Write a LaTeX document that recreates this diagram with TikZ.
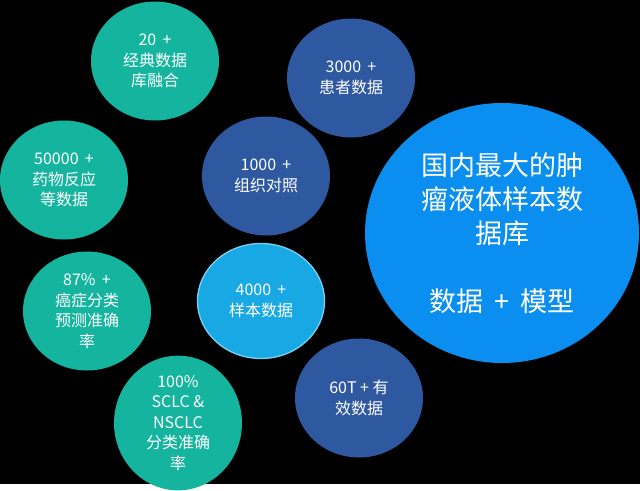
\documentclass[tikz,border=0pt]{standalone}
\usepackage{fontspec}
\setmainfont{Noto Sans CJK SC}
\usetikzlibrary{shapes.geometric}
\definecolor{tealbub}{RGB}{20,180,158}
\definecolor{navybub}{RGB}{46,88,160}
\definecolor{skybub}{RGB}{24,168,228}
\definecolor{skyrim}{RGB}{120,210,242}
\definecolor{bigbub}{RGB}{10,142,240}
\begin{document}
\begin{tikzpicture}[x=1pt,y=-1pt,
    bubble/.style={ellipse,inner sep=0pt,minimum width=128pt,minimum height=119pt,
      text=white,align=center,font=\fontsize{16}{20.5}\selectfont},
    tealb/.style={bubble,fill=tealbub},
    navyb/.style={bubble,fill=navybub},
    skyb/.style={bubble,fill=skybub,draw=skyrim,line width=1.3pt,minimum width=127pt,minimum height=115pt},
    bigb/.style={bubble,fill=bigbub,minimum width=274pt,minimum height=260pt,
      font=\fontsize{27}{34}\selectfont}]
  \fill[black] (0,0) rectangle (640,484);
  \path
    (155,61) node[tealb] (classic){20 \,+\\经典数据\\库融合}
    (64,180) node[tealb] (drug){50000 \,+\\药物反应\\等数据}
    (87,311) node[tealb] (cancer){87\% \,+\\癌症分类\\预测准确\\率}
    (178,423) node[tealb] (sclc){100\%\\SCLC \&\\NSCLC\\分类准确\\率}
    (351,78) node[navyb] (patient){3000 \,+\\患者数据}
    (266,176) node[navyb] (tissue){1000 \,+\\组织对照}
    (359,398) node[navyb] (valid){60T + 有\\效数据}
    (261,301) node[skyb] (sample){4000 \,+\\样本数据}
    (502,233) node[bigb] (core){国内最大的肿\\瘤液体样本数\\据库\\[34pt]数据 \,+\, 模型};
\end{tikzpicture}
\end{document}
